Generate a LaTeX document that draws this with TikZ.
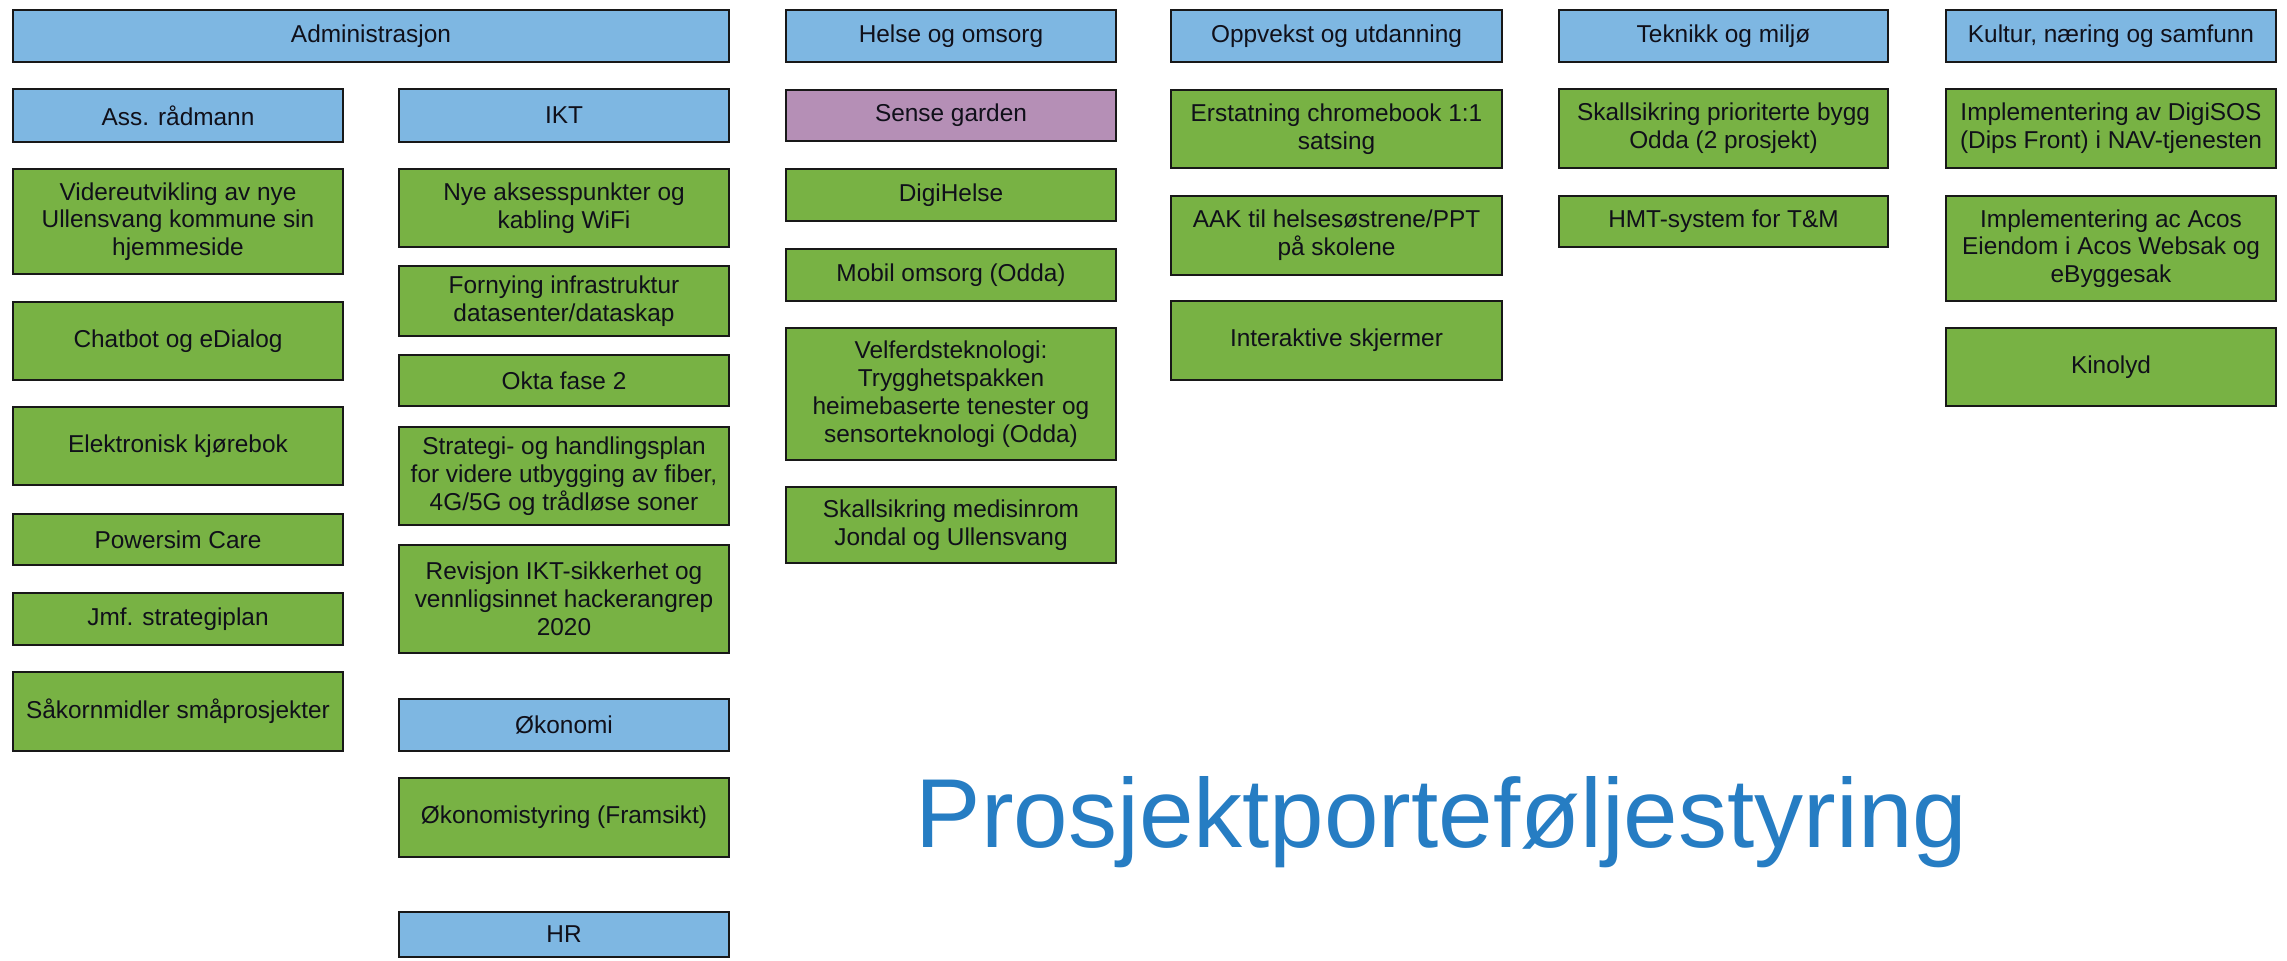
\documentclass[tikz,border=0pt]{standalone}
\usepackage{fontspec}
\setmainfont{Liberation Sans}
\definecolor{hdrblue}{RGB}{126,183,226}
\definecolor{projgreen}{RGB}{120,178,68}
\definecolor{projpurple}{RGB}{181,143,182}
\definecolor{edge}{RGB}{24,24,24}
\definecolor{txt}{RGB}{16,16,26}
\definecolor{titleblue}{RGB}{38,125,195}
\newcommand\bx[7]{\node[#6, minimum width={(#4-#2)*0.5pt-1.2pt}, minimum height={(#5-#3)*0.5pt-1.2pt}] (#1) at ({(#2+#4)/2},{(#3+#5)/2}) {#7};}
\tikzset{
  box/.style={draw=edge, line width=1.2pt, inner sep=0pt, align=center, text=txt,
    font=\fontsize{12.2}{13.9}\selectfont},
  hdr/.style={box, fill=hdrblue},
  proj/.style={box, fill=projgreen},
  projp/.style={box, fill=projpurple},
}
\begin{document}
\begin{tikzpicture}[x=0.5pt,y=-0.5pt]
\useasboundingbox (0,0) rectangle (2287,960);
% Administrasjon
\bx{adm}{12}{9}{730}{63}{hdr}{Administrasjon}
\bx{ass}{12}{88}{344}{143}{hdr}{Ass. rådmann}
\bx{ikt}{398}{88}{730}{143}{hdr}{IKT}
\bx{a1}{12}{168}{344}{275}{proj}{Videreutvikling av nye\\Ullensvang kommune sin\\hjemmeside}
\bx{a2}{12}{301}{344}{381}{proj}{Chatbot og eDialog}
\bx{a3}{12}{406}{344}{486}{proj}{Elektronisk kjørebok}
\bx{a4}{12}{513}{344}{566}{proj}{Powersim Care}
\bx{a5}{12}{592}{344}{646}{proj}{Jmf. strategiplan}
\bx{a6}{12}{671}{344}{752}{proj}{Såkornmidler småprosjekter}
\bx{i1}{398}{168}{730}{248}{proj}{Nye aksesspunkter og\\kabling WiFi}
\bx{i2}{398}{265}{730}{337}{proj}{Fornying infrastruktur\\datasenter/dataskap}
\bx{i3}{398}{354}{730}{407}{proj}{Okta fase 2}
\bx{i4}{398}{426}{730}{526}{proj}{Strategi- og handlingsplan\\for videre utbygging av fiber,\\4G/5G og trådløse soner}
\bx{i5}{398}{544}{730}{654}{proj}{Revisjon IKT-sikkerhet og\\vennligsinnet hackerangrep\\2020}
\bx{oko}{398}{698}{730}{752}{hdr}{Økonomi}
\bx{o1}{398}{777}{730}{858}{proj}{Økonomistyring (Framsikt)}
\bx{hr}{398}{911}{730}{958}{hdr}{HR}
% Helse og omsorg
\bx{hel}{785}{9}{1117}{63}{hdr}{Helse og omsorg}
\bx{h1}{785}{89}{1117}{142}{projp}{Sense garden}
\bx{h2}{785}{168}{1117}{222}{proj}{DigiHelse}
\bx{h3}{785}{248}{1117}{302}{proj}{Mobil omsorg (Odda)}
\bx{h4}{785}{327}{1117}{461}{proj}{Velferdsteknologi:\\Trygghetspakken\\heimebaserte tenester og\\sensorteknologi (Odda)}
\bx{h5}{785}{486}{1117}{564}{proj}{Skallsikring medisinrom\\Jondal og Ullensvang}
% Oppvekst og utdanning
\bx{opp}{1170}{9}{1503}{63}{hdr}{Oppvekst og utdanning}
\bx{u1}{1170}{89}{1503}{169}{proj}{Erstatning chromebook 1:1\\satsing}
\bx{u2}{1170}{195}{1503}{276}{proj}{AAK til helsesøstrene/PPT\\på skolene}
\bx{u3}{1170}{300}{1503}{381}{proj}{Interaktive skjermer}
% Teknikk og miljø
\bx{tek}{1558}{9}{1889}{63}{hdr}{Teknikk og miljø}
\bx{t1}{1558}{88}{1889}{169}{proj}{Skallsikring prioriterte bygg\\Odda (2 prosjekt)}
\bx{t2}{1558}{195}{1889}{248}{proj}{HMT-system for T\&M}
% Kultur, næring og samfunn
\bx{kul}{1945}{9}{2277}{63}{hdr}{Kultur, næring og samfunn}
\bx{k1}{1945}{88}{2277}{169}{proj}{Implementering av DigiSOS\\(Dips Front) i NAV-tjenesten}
\bx{k2}{1945}{195}{2277}{302}{proj}{Implementering ac Acos\\Eiendom i Acos Websak og\\eByggesak}
\bx{k3}{1945}{327}{2277}{407}{proj}{Kinolyd}
% Title
\node[anchor=base, inner sep=0pt, text=titleblue, font=\fontsize{49}{55}\selectfont] (title) at (1441.5,847) {Prosjektporteføljestyring};
\end{tikzpicture}
\end{document}
